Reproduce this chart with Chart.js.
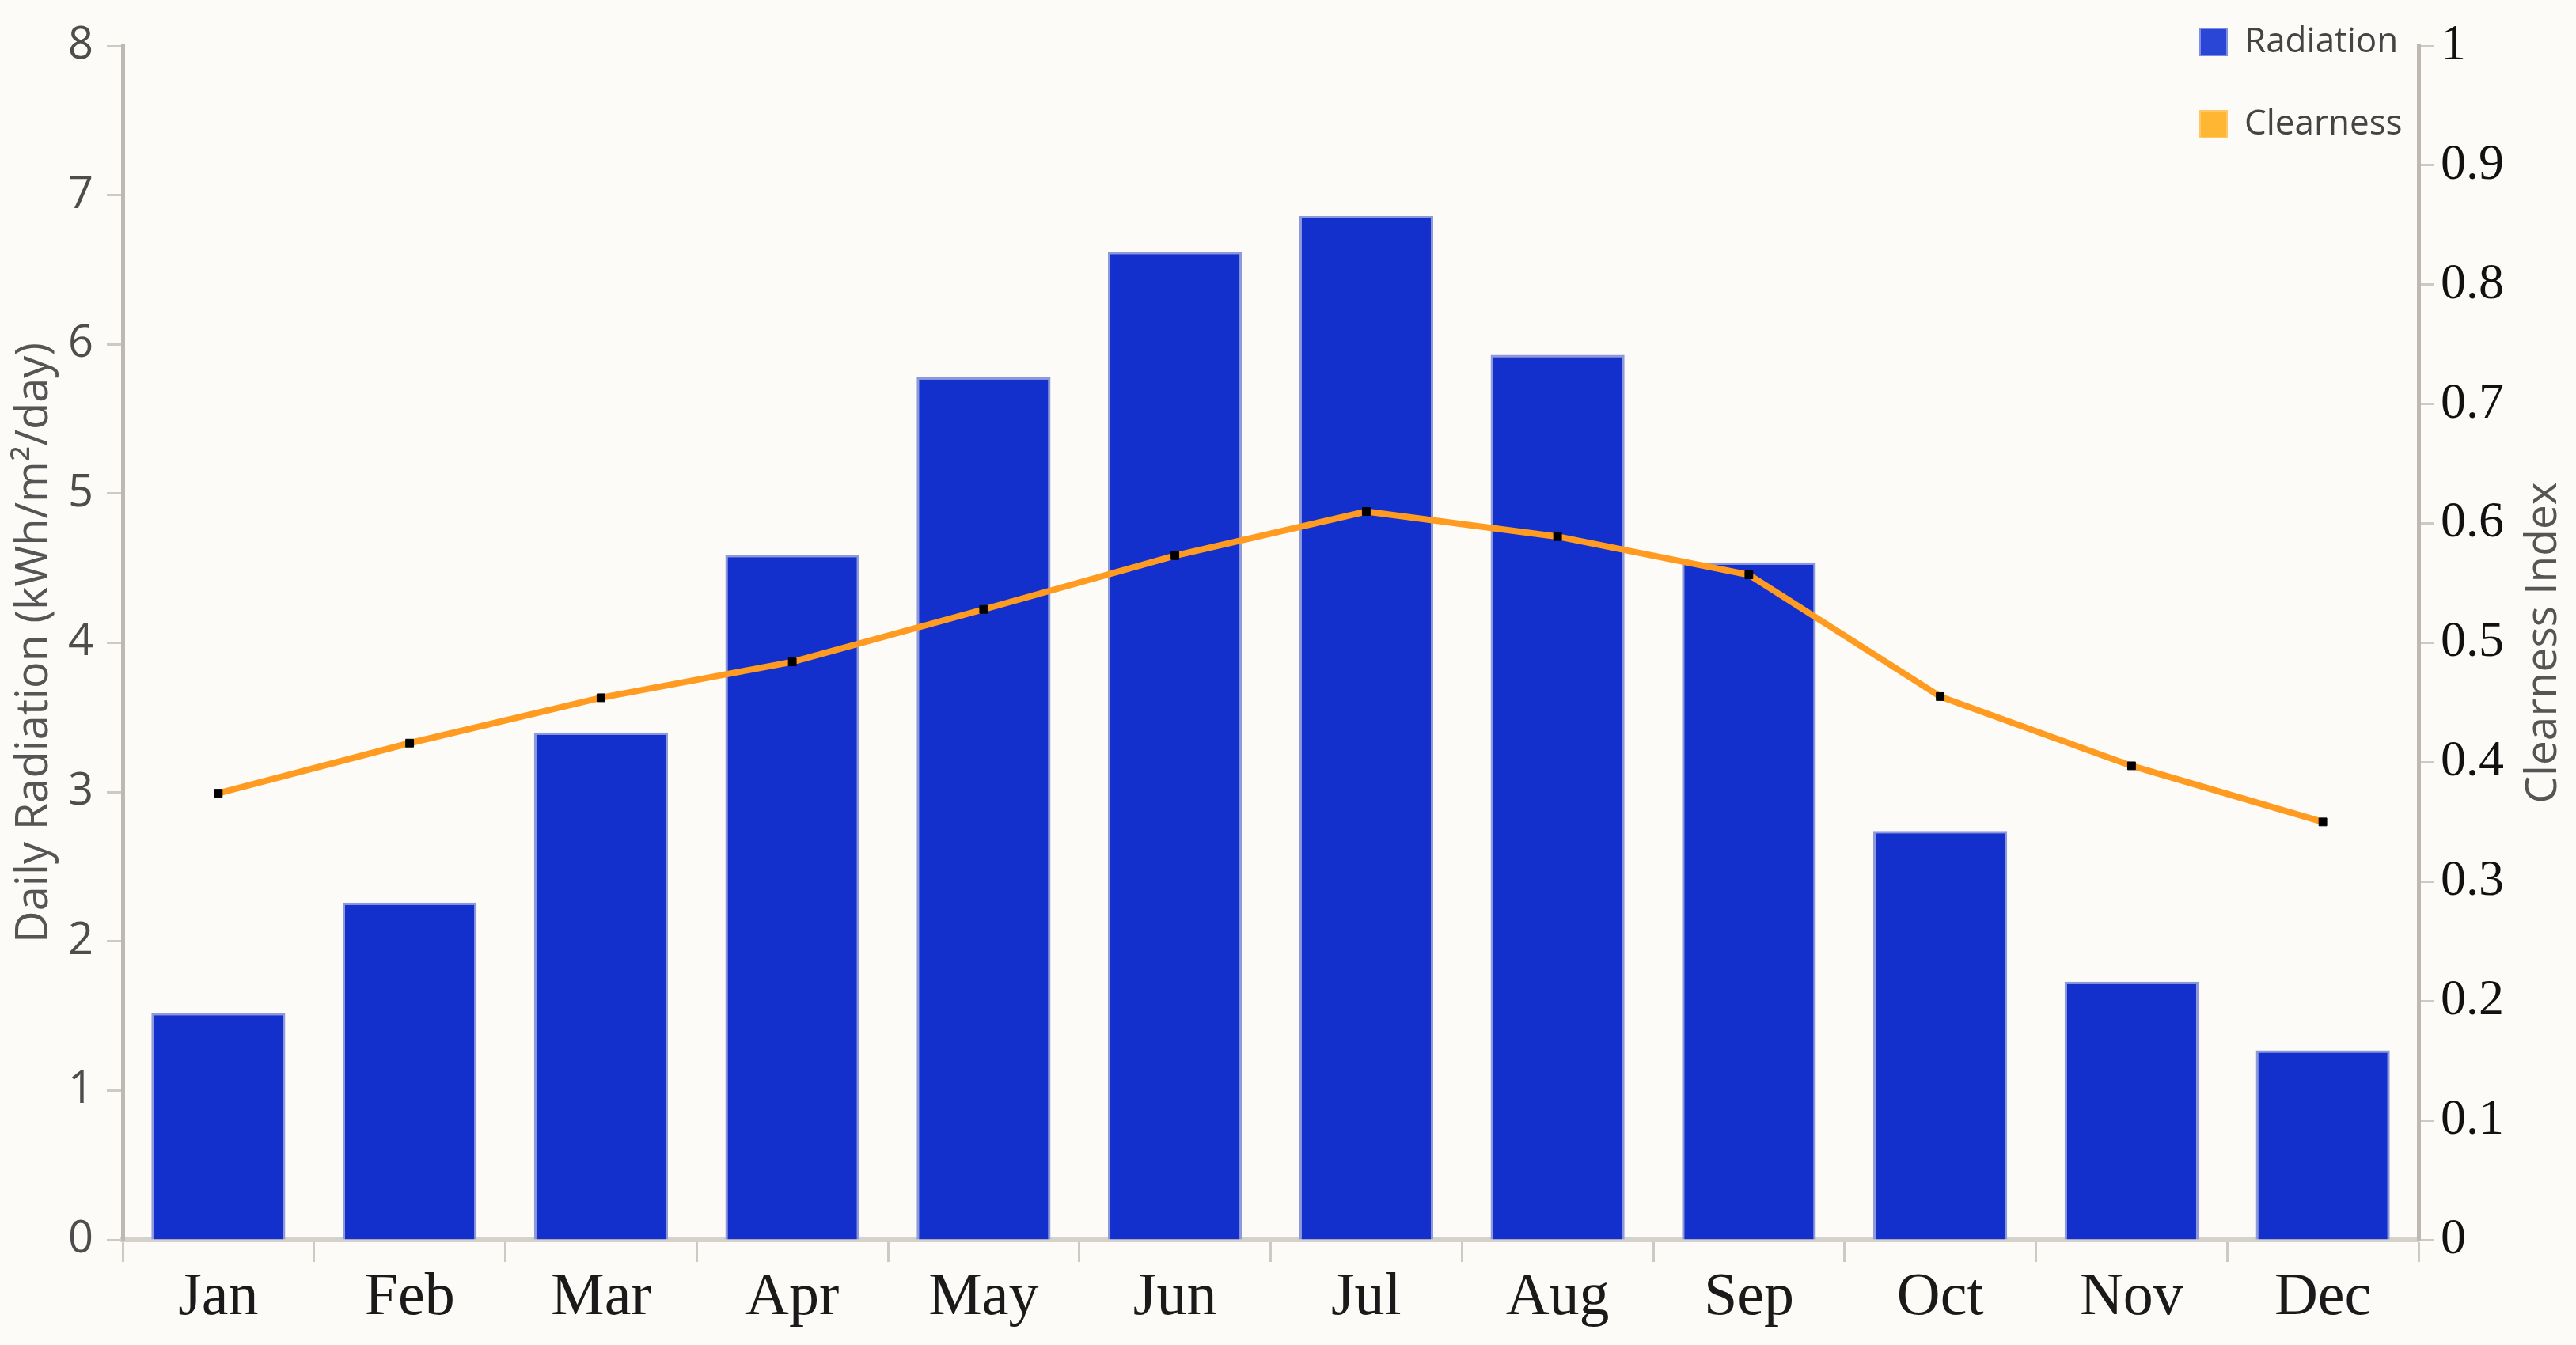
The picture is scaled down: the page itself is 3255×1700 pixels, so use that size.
<!DOCTYPE html>
<html>
<head>
<meta charset="utf-8">
<script src="https://cdn.jsdelivr.net/npm/chart.js@4/dist/chart.umd.min.js"></script>
<style>
  html, body { margin: 0; padding: 0; background: #FDFBF8; overflow: hidden; }
  canvas { display: block; }
</style>
</head>
<body>
<canvas id="c" width="3255" height="1700"></canvas>
<script>
// ---- data ----
const months = ['Jan', 'Feb', 'Mar', 'Apr', 'May', 'Jun', 'Jul', 'Aug', 'Sep', 'Oct', 'Nov', 'Dec'];
const radiation = [1.52, 2.26, 3.40, 4.59, 5.78, 6.62, 6.86, 5.93, 4.54, 2.74, 1.73, 1.27];
const clearness = [0.374, 0.416, 0.454, 0.484, 0.528, 0.573, 0.610, 0.589, 0.557, 0.455, 0.397, 0.350];
const seriesNames = ['Radiation', 'Clearness'];
const radiationAxis = [0, 8, 1];   // min, max, step
const clearnessAxis = [0, 1, 0.1]; // min, max, step
const axisTitles = ['Daily Radiation (kWh/m\u00B2/day)', 'Clearness Index'];

// ---- styles ----
const BAR_FILL = '#1430CC';
const BAR_EDGE = '#8E99DA';
const LINE_COLOR = '#FF9B21';
const LEGEND_FILL = ['#2A46D6', '#FFB733'];
const LEGEND_EDGE = ['#7F8FE0', '#FFC766'];
const AXIS_COLOR = '#BDB8B2';
const TICK_COLOR = '#CDC9C3';

// place legend inside the plot, left of the right axis
const legendPlacer = {
  id: 'legendPlacer',
  afterLayout(chart) {
    const lg = chart.legend;
    if (!lg) return;
    const pad = lg.options.labels.padding;
    const ca = chart.chartArea;
    const w = lg.width, h = lg.height;
    lg.left = ca.right - 276 - pad;
    lg.top = ca.top - 87;
    lg.right = lg.left + w + 2 * pad + 60;
    lg.bottom = lg.top + h + 2 * pad;
  }
};

// right-axis title reading bottom-to-top
const rightTitle = {
  id: 'rightTitle',
  afterDraw(chart, args, opts) {
    const s = chart.scales.y1;
    const ctx = chart.ctx;
    ctx.save();
    ctx.font = opts.size + 'px ' + opts.family;
    ctx.fillStyle = opts.color;
    ctx.textAlign = 'center';
    ctx.textBaseline = 'middle';
    ctx.translate(s.right - opts.offset, (s.top + s.bottom) / 2);
    ctx.rotate(-Math.PI / 2);
    ctx.fillText(opts.text, 0, 0);
    ctx.restore();
  }
};

new Chart(document.getElementById('c'), {
  type: 'bar',
  data: {
    labels: months,
    datasets: [
      {
        type: 'bar',
        label: seriesNames[0],
        data: radiation,
        yAxisID: 'y',
        backgroundColor: BAR_FILL,
        borderColor: BAR_EDGE,
        borderWidth: 3,
        barPercentage: 0.7,
        categoryPercentage: 1.0,
        order: 2
      },
      {
        type: 'line',
        label: seriesNames[1],
        data: clearness,
        yAxisID: 'y1',
        borderColor: LINE_COLOR,
        backgroundColor: LINE_COLOR,
        borderWidth: 8,
        tension: 0,
        fill: false,
        pointStyle: 'rect',
        pointRadius: 7,
        pointBackgroundColor: '#000',
        pointBorderColor: '#000',
        pointBorderWidth: 1,
        order: 1
      }
    ]
  },
  options: {
    responsive: false,
    devicePixelRatio: 1,
    animation: false,
    layout: { padding: { top: 58, left: 0, right: 0, bottom: 0 } },
    plugins: {
      tooltip: { enabled: false },
      title: { display: false },
      legend: {
        position: 'chartArea',
        align: 'start',
        labels: {
          boxWidth: 34,
          boxHeight: 34,
          padding: 60,
          color: '#444',
          font: { family: '"Open Sans"', size: 44 },
          sort: (a, b) => a.datasetIndex - b.datasetIndex,
          generateLabels(chart) {
            const items = Chart.defaults.plugins.legend.labels.generateLabels(chart);
            return items.map(it => Object.assign(it, {
              fillStyle: LEGEND_FILL[it.datasetIndex],
              strokeStyle: LEGEND_EDGE[it.datasetIndex],
              lineWidth: 2,
              lineDash: [],
              lineCap: 'butt',
              lineJoin: 'miter'
            }));
          }
        }
      },
      rightTitle: { text: axisTitles[1], family: '"Open Sans"', size: 55, color: '#555', offset: 41 }
    },
    scales: {
      x: {
        offset: true,
        ticks: { color: '#1A1A1A', font: { family: '"Liberation Serif"', size: 76 }, padding: 0, maxRotation: 0, autoSkip: false },
        grid: { offset: true, drawOnChartArea: false, tickLength: 28, tickWidth: 3, tickColor: TICK_COLOR },
        border: { color: '#D5D1CB', width: 6 },
        afterFit(s) { s.height = 133; }
      },
      y: {
        position: 'left',
        min: radiationAxis[0],
        max: radiationAxis[1],
        ticks: { stepSize: radiationAxis[2], padding: 17, color: '#4D4D4D', font: { family: '"Open Sans"', size: 56 } },
        grid: { drawOnChartArea: false, tickLength: 20, tickWidth: 3, tickColor: TICK_COLOR },
        border: { color: AXIS_COLOR, width: 5 },
        title: { display: true, text: axisTitles[0], color: '#555', font: { family: '"Open Sans"', size: 56 }, padding: { top: 10, bottom: 0 } },
        afterFit(s) { s.width = 155; }
      },
      y1: {
        position: 'right',
        min: clearnessAxis[0],
        max: clearnessAxis[1],
        ticks: {
          stepSize: clearnessAxis[2],
          padding: 8,
          color: '#111',
          font: { family: '"Liberation Serif"', size: 64 },
          callback: v => String(Math.round(v * 10) / 10)
        },
        grid: { drawOnChartArea: false, tickLength: 20, tickWidth: 3, tickColor: TICK_COLOR },
        border: { color: AXIS_COLOR, width: 5 },
        afterFit(s) { s.width = 199; }
      }
    }
  },
  plugins: [legendPlacer, rightTitle]
});
</script>
</body>
</html>
